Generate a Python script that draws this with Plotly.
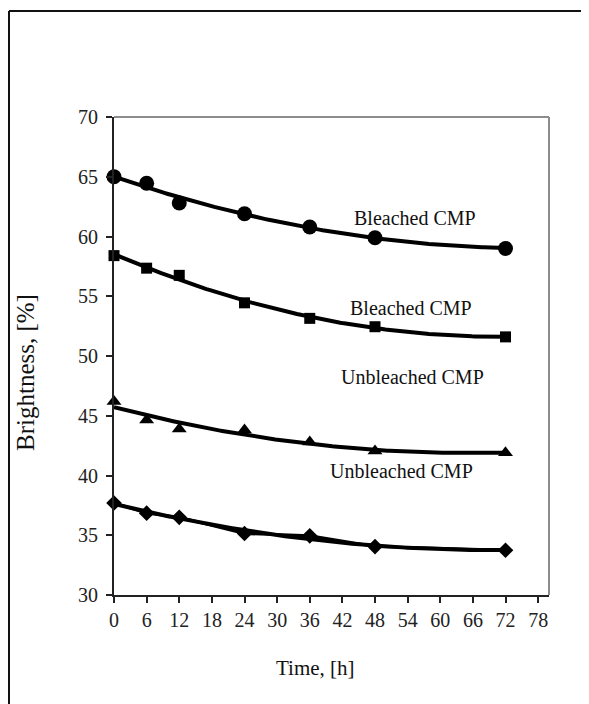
import numpy as np
import plotly.graph_objects as go

time_h = [0, 6, 12, 24, 36, 48, 72]
bleached_circle = [65.0, 64.45, 62.8, 61.9, 60.8, 59.9, 59.0]
bleached_square = [58.4, 57.35, 56.75, 54.45, 53.15, 52.45, 51.6]
unbleached_triangle = [46.2, 44.65, 43.9, 43.8, 42.8, 42.05, 41.9]
unbleached_diamond = [37.7, 36.85, 36.5, 35.15, 34.95, 34.05, 33.75]

x_ticks = list(range(0, 79, 6))
y_ticks = list(range(30, 71, 5))

labels = ["Bleached CMP", "Bleached CMP", "Unbleached CMP", "Unbleached CMP"]
label_x = [55.4, 54.7, 54.9, 52.9]
label_y = [61.55, 54.0, 48.27, 40.38]

FONT = "Liberation Serif"

fig = go.Figure()

series = [
    (bleached_circle, "circle", 15),
    (bleached_square, "square", 11),
    (unbleached_triangle, "triangle-up", 13),
    (unbleached_diamond, "diamond", 12),
]

xs = np.linspace(min(time_h), max(time_h), 200)
for vals, sym, size in series:
    coef = np.polyfit(time_h, vals, 2)
    fig.add_trace(go.Scatter(x=xs, y=np.polyval(coef, xs), mode="lines",
                             line=dict(color="black", width=4), showlegend=False,
                             hoverinfo="skip", cliponaxis=False))

# straight connecting line for diamonds (visible in reference)
fig.add_trace(go.Scatter(x=time_h, y=unbleached_diamond, mode="lines",
                         line=dict(color="black", width=3), showlegend=False,
                         cliponaxis=False))

for vals, sym, size in series:
    fig.add_trace(go.Scatter(x=time_h, y=vals, mode="markers",
                             marker=dict(symbol=sym, size=size, color="black",
                                         line=dict(width=0)),
                             showlegend=False, cliponaxis=False))

for t, lx, ly in zip(labels, label_x, label_y):
    fig.add_annotation(x=lx, y=ly, text=t, showarrow=False, xanchor="center",
                       yanchor="middle", font=dict(family=FONT, size=20, color="#111"))

fig.add_annotation(xref="paper", yref="paper", x=0.464, y=-0.1527, text="Time, [h]",
                   showarrow=False, xanchor="center", yanchor="middle",
                   font=dict(family=FONT, size=21, color="#111"))
fig.add_annotation(xref="paper", yref="paper", x=-0.2046, y=0.4665, text="Brightness, [%]",
                   showarrow=False, xanchor="center", yanchor="middle", textangle=-90,
                   font=dict(family=FONT, size=25, color="#111"))

# plot top/right borders (gray)
fig.add_shape(type="line", xref="paper", yref="paper", x0=0, x1=1, y0=1, y1=1,
              line=dict(color="#8c8c8c", width=2))
fig.add_shape(type="line", xref="paper", yref="paper", x0=1, x1=1, y0=0, y1=1,
              line=dict(color="#8c8c8c", width=2))
# outer frame (top and left visible)
fig.add_shape(type="line", xref="paper", yref="paper", x0=-0.2414, x1=1.2, y0=1.2218, y1=1.2218,
              line=dict(color="#111", width=2))
fig.add_shape(type="line", xref="paper", yref="paper", x0=-0.2414, x1=-0.2414, y0=-0.3, y1=1.2218,
              line=dict(color="#111", width=2))

fig.update_xaxes(range=[0, 80], tickvals=x_ticks, ticks="outside", ticklen=6,
                 tickwidth=1.5, tickcolor="#222", showline=True, linecolor="#222",
                 linewidth=2, showgrid=False, zeroline=False,
                 tickfont=dict(family=FONT, size=20, color="#222"))
fig.update_yaxes(range=[30, 70], tickvals=y_ticks, ticks="outside", ticklen=6,
                 tickwidth=1.5, tickcolor="#222", showline=True, linecolor="#222",
                 linewidth=2, showgrid=False, zeroline=False, ticklabelstandoff=4,
                 tickfont=dict(family=FONT, size=20, color="#222"))

fig.update_layout(width=589, height=704, margin=dict(l=106, r=48, t=109, b=117),
                  plot_bgcolor="white", paper_bgcolor="white", showlegend=False)

fig.write_html("out.html")
